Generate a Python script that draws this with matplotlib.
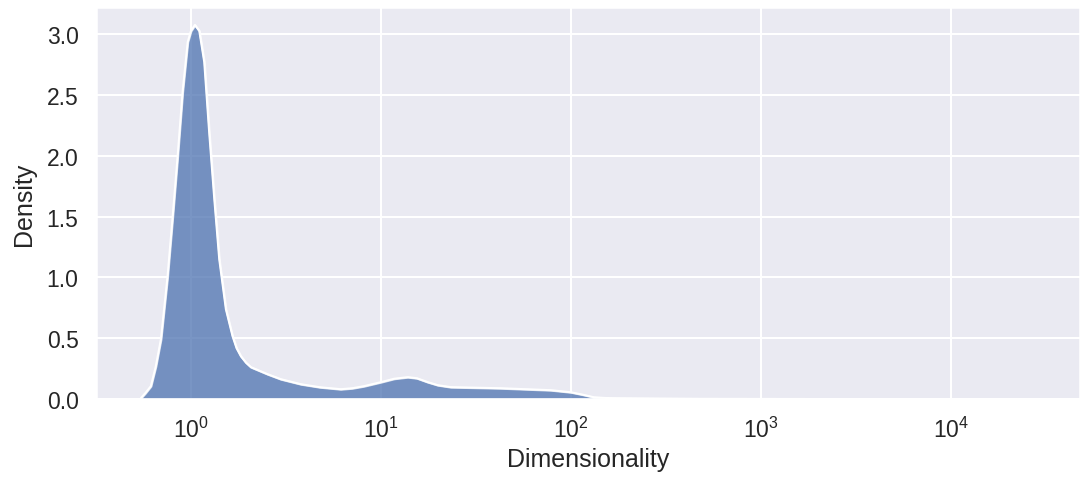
import numpy as np
import matplotlib
matplotlib.use("Agg")
import matplotlib.pyplot as plt
import seaborn as sns

# density curve (x in log10 units)
log_dim = [-0.263, -0.24, -0.211, -0.185, -0.158, -0.123, -0.096, -0.070, -0.044, -0.017,
           0.0, 0.021, 0.044, 0.070, 0.096, 0.123, 0.149, 0.184, 0.219, 0.24,
           0.263, 0.29, 0.316, 0.404, 0.474, 0.579, 0.68, 0.789, 0.85, 0.911,
           1.0, 1.07, 1.142, 1.19, 1.247, 1.30, 1.368, 1.632, 1.895, 2.0,
           2.06, 2.121, 2.18, 2.247, 2.684, 3.47, 4.26, 4.53]
density = [0.01, 0.05, 0.107, 0.27, 0.493, 1.011, 1.504, 1.997, 2.523, 2.934,
           3.025, 3.074, 3.025, 2.77, 2.193, 1.643, 1.150, 0.739, 0.518, 0.42,
           0.353, 0.30, 0.263, 0.205, 0.164, 0.123, 0.098, 0.082, 0.090, 0.107,
           0.140, 0.168, 0.181, 0.172, 0.140, 0.115, 0.099, 0.090, 0.074, 0.057,
           0.038, 0.016, 0.010, 0.008, 0.003, 0.001, 0.0005, 0.0]

sns.set_theme(style="darkgrid", context="talk")
plt.rcParams['font.family'] = ['Liberation Sans', 'DejaVu Sans']

dim = 10 ** np.array(log_dim)

fig, ax = plt.subplots(figsize=(10.82, 4.81), dpi=100)
fig.subplots_adjust(left=0.0887, right=0.998, top=0.983, bottom=0.168)

ax.fill_between(dim, density, 0, facecolor="#4c72b0", alpha=0.75,
                edgecolor="white", linewidth=1.5)
ax.plot(dim, density, color="white", linewidth=1.5)

ax.set_xscale("log")
ax.set_xlim(10 ** -0.5, 10 ** 4.68)
ax.set_ylim(0, 3.22)
ax.set_xlabel("Dimensionality")
ax.set_ylabel("Density", labelpad=8)

fig.savefig("out.png", dpi=100)
